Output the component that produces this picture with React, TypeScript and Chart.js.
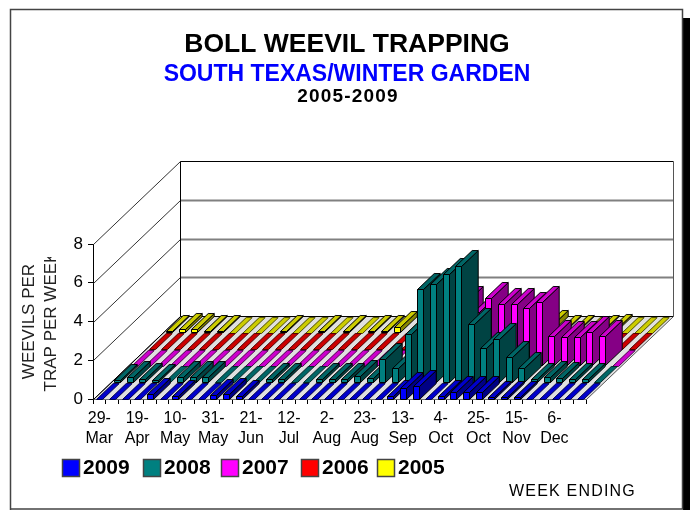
import React, { useEffect, useRef } from "react";
import { Chart, BarController, registerables } from "chart.js";

Chart.register(...registerables);

const weeks = ["29-Mar","5-Apr","12-Apr","19-Apr","26-Apr","3-May","10-May","17-May","24-May","31-May","7-Jun","14-Jun","21-Jun","28-Jun","5-Jul","12-Jul","19-Jul","26-Jul","2-Aug","9-Aug","16-Aug","23-Aug","30-Aug","6-Sep","13-Sep","20-Sep","27-Sep","4-Oct","11-Oct","18-Oct","25-Oct","1-Nov","8-Nov","15-Nov","22-Nov","29-Nov","6-Dec","13-Dec","20-Dec"];

const y2009 = [0,0,0,0,0.25,0,0.13,0,0,0.22,0.25,0.13,0,0,0,0,0,0,0,0,0,0,0,0.13,0.55,0.65,0,0.13,0.35,0.35,0.35,0.12,0.12,0.12,0,0,0,0,0];
const y2008 = [0.1,0.3,0.15,0.1,0,0.3,0.27,0.27,0,0,0,0,0.15,0.15,0,0,0.15,0.15,0.15,0.35,0.25,1.2,0.75,2.5,4.8,5.1,5.6,6.0,3.0,1.8,2.25,1.3,0.75,0.2,0.3,0.25,0.15,0.15,null];
const y2007 = [0,0,0,0,0,0,0,0,0,0,0,0,0,0,0,0,0,0,0,0,0,0,0,0,0,0,3.3,2.8,3.5,3.2,3.2,3.0,3.3,1.55,1.5,1.5,1.75,1.55,null];
const y2006 = [0,0,0,0,0,0,0,0,0,0,0,0,0,0,0,0,0,0,0,0,0,0,0,0,0,0,0,0,0,0,0,0,0,0,0,0,0,0,null];
const y2005 = [0.1,0.2,0.2,0.08,0.08,0,0,0,0,0.08,0,0,0.08,0,0.08,0,0.08,0.08,0.28,0,0,0,0,0,0,0,0,0,0,0,0.35,0.08,0.08,0,0.08,0.15,0,0,null];

const seriesNames = ["2009","2008","2007","2006","2005"];
const seriesColors = ["#0000ff","#008080","#ff00ff","#ff0000","#ffff00"];
const legendX = [62,143,221,301,377];

const WALL_DX = 87; // depth offset of back wall
const WALL_DY = 83;
const ROWS = 5;
const FONT = "'Liberation Sans', Arial, sans-serif";

function shade(hex: string, f: number) {
  const n = parseInt(hex.slice(1), 16);
  const c = [(n >> 16) & 255, (n >> 8) & 255, n & 255].map((v) => Math.round(v * f));
  return `rgb(${c[0]},${c[1]},${c[2]})`;
}

function poly(ctx: CanvasRenderingContext2D, pts: number[][], fill: string | null, stroke: string | null) {
  ctx.beginPath();
  pts.forEach((p, i) => (i ? ctx.lineTo(p[0], p[1]) : ctx.moveTo(p[0], p[1])));
  ctx.closePath();
  if (fill) { ctx.fillStyle = fill; ctx.fill(); }
  if (stroke) { ctx.strokeStyle = stroke; ctx.lineWidth = 1; ctx.stroke(); }
}

class Bar3DController extends BarController {
  draw() {
    const ctx = (this as any).chart.ctx as CanvasRenderingContext2D;
    const meta = (this as any)._cachedMeta;
    const row = (this as any).index as number;
    const color = (this as any).getDataset().backgroundColor as string;
    const sx = WALL_DX / ROWS, sy = WALL_DY / ROWS;
    const ox = row * sx, oy = -row * sy;
    const dx = sx * 0.96, dy = sy * 0.96;
    const edge = shade(color, 0.3);
    ctx.save();
    ctx.lineJoin = "round";
    meta.data.forEach((el: any) => {
      if (el.skip) return;
      const p = el.getProps(["x", "y", "base", "width"], true);
      const l = Math.round(p.x - p.width / 2 + ox) + 0.5;
      const r = l + Math.round(p.width);
      const b = Math.round(p.base + oy) + 0.5;
      const t = Math.round(p.y + oy) + 0.5;
      if (b - t < 1) {
        // a zero value: only the lid of the bar lies on the floor
        poly(ctx, [[l, t], [r, t], [r + dx, t - dy], [l + dx, t - dy]], shade(color, 0.8), edge);
        return;
      }
      poly(ctx, [[r, b], [r + dx, b - dy], [r + dx, t - dy], [r, t]], shade(color, 0.52), "#000");
      poly(ctx, [[l, t], [r, t], [r + dx, t - dy], [l + dx, t - dy]], shade(color, 0.8), "#000");
      poly(ctx, [[l, b], [r, b], [r, t], [l, t]], color, "#000");
    });
    ctx.restore();
  }
}
(Bar3DController as any).id = "bar3d";
(Bar3DController as any).defaults = (BarController as any).defaults;
(Bar3DController as any).overrides = (BarController as any).overrides;
Chart.register(Bar3DController as any);

const framePlugin = {
  id: "frame",
  afterLayout(chart: any) {
    // titles centre on the whole picture, not on the plot's reduced width
    chart.boxes.forEach((b: any) => {
      if (b.options && b.options.text !== undefined) {
        b.left = 0;
        b.right = 694;
      }
    });
  },
  beforeDraw(chart: any) {
    const c = chart.ctx as CanvasRenderingContext2D;
    c.save();
    c.fillStyle = "#fff";
    c.fillRect(0, 0, 694, 510);
    c.fillStyle = "#000";
    c.fillRect(683, 18, 7, 492);
    c.strokeStyle = "#444";
    c.lineWidth = 1.5;
    c.beginPath();
    c.moveTo(10.5, 510);
    c.lineTo(10.5, 9.5);
    c.lineTo(682.5, 9.5);
    c.lineTo(682.5, 509);
    c.lineTo(10.5, 509);
    c.stroke();
    c.restore();
  },
};

const wallsPlugin = {
  id: "walls",
  beforeDatasetsDraw(chart: any) {
    const c = chart.ctx as CanvasRenderingContext2D;
    const { left, right, bottom } = chart.chartArea;
    const ys = chart.scales.y;
    const L = left + 0.5, R = right + 0.5, B = bottom + 0.5;
    const bl = L + WALL_DX, br = R + WALL_DX, by = B - WALL_DY;
    c.save();
    poly(c, [[L, B], [R, B], [br, by], [bl, by]], "#e0e0e0", null);
    c.lineWidth = 1;
    ys.ticks.forEach((t: any) => {
      const y = Math.round(ys.getPixelForValue(t.value)) + 0.5;
      const top = t.value === 8, zero = t.value === 0;
      c.strokeStyle = "#333";
      c.lineWidth = 1;
      c.beginPath();
      c.moveTo(L, y);
      c.lineTo(L + WALL_DX, y - WALL_DY);
      c.stroke();
      c.strokeStyle = top || zero ? "#000" : "#808080";
      c.lineWidth = top || zero ? 1 : 2;
      c.beginPath();
      c.moveTo(bl, y - WALL_DY);
      c.lineTo(br, y - WALL_DY);
      c.stroke();
    });
    const topY = Math.round(ys.getPixelForValue(8)) + 0.5 - WALL_DY;
    c.strokeStyle = "#000";
    c.lineWidth = 1;
    c.beginPath();
    c.moveTo(bl, topY); c.lineTo(bl, by);
    c.moveTo(L, B); c.lineTo(bl, by);
    c.stroke();
    c.strokeStyle = "#555";
    c.beginPath();
    c.moveTo(br, topY); c.lineTo(br, by); c.lineTo(R, B);
    c.stroke();
    c.restore();
  },
};

const textPlugin = {
  id: "texts",
  afterDraw(chart: any) {
    const c = chart.ctx as CanvasRenderingContext2D & { letterSpacing: string };
    c.save();
    // the y title is cut off at its end in the source picture
    c.fillStyle = "#fff";
    c.fillRect(40, 236, 24, 21);
    c.textBaseline = "middle";
    c.textAlign = "center";
    c.fillStyle = "#000";
    c.font = `bold 19px ${FONT}`;
    c.letterSpacing = "1.2px";
    c.fillText("2005-2009", 348, 97);
    c.textAlign = "left";
    c.font = `16px ${FONT}`;
    c.letterSpacing = "1.2px";
    c.fillText("WEEK ENDING", 509, 492);
    c.letterSpacing = "0px";
    chart.data.datasets.forEach((d: any, i: number) => {
      const x = legendX[i];
      c.fillStyle = d.backgroundColor;
      c.fillRect(x, 459, 18, 18);
      c.strokeStyle = "#444";
      c.lineWidth = 1.5;
      c.strokeRect(x + 0.5, 459.5, 17, 17);
      c.fillStyle = "#000";
      c.font = `bold 21px ${FONT}`;
      c.fillText(d.label, x + 21, 468);
    });
    c.restore();
  },
};

export default function App() {
  const ref = useRef<HTMLCanvasElement>(null);
  useEffect(() => {
    const values = [y2009, y2008, y2007, y2006, y2005];
    const chart = new Chart(ref.current as HTMLCanvasElement, {
      type: "bar3d" as any,
      data: {
        labels: weeks,
        datasets: values.map((v, i) => ({
          label: seriesNames[i],
          data: v,
          backgroundColor: seriesColors[i],
          grouped: false,
          clip: false,
          categoryPercentage: 1,
          barPercentage: 0.45,
        })) as any,
      },
      options: {
        responsive: false,
        animation: false,
        events: [],
        layout: { padding: { left: 0, right: 108, top: 0, bottom: 0 } },
        scales: {
          x: {
            type: "category",
            offset: true,
            afterFit: (s: any) => { s.height = 111; },
            grid: { display: true, offset: true, drawOnChartArea: false, drawTicks: true, tickLength: 5, color: "#000" },
            border: { display: true, color: "#000" },
            ticks: {
              autoSkip: false,
              maxRotation: 0,
              minRotation: 0,
              padding: 5,
              color: "#000",
              font: { family: FONT, size: 16, lineHeight: 1.25 },
              callback: (_: any, i: number) => {
                if (i % 3 !== 0) return "";
                const [d, m] = weeks[i].split("-");
                return [`${d}-`, m];
              },
            },
          },
          y: {
            type: "linear",
            min: 0,
            max: 8,
            afterFit: (s: any) => { s.width = 93; },
            grid: { display: true, drawOnChartArea: false, drawTicks: true, tickLength: 5, color: "#000" },
            border: { display: true, color: "#000" },
            ticks: { stepSize: 2, padding: 5, color: "#000", font: { family: FONT, size: 17 } },
            title: {
              display: true,
              text: ["WEEVILS PER", "TRAP PER WEEK"],
              color: "#222",
              font: { family: FONT, size: 17, lineHeight: 1.3 },
              padding: { top: 18, bottom: 0 },
            },
          },
        },
        plugins: {
          legend: { display: false },
          tooltip: { enabled: false },
          title: {
            display: true,
            text: "BOLL WEEVIL TRAPPING",
            color: "#000",
            font: { family: FONT, size: 26.5, weight: "bold", lineHeight: 1.2 },
            padding: { top: 29, bottom: 0 },
          },
          subtitle: {
            display: true,
            text: "SOUTH TEXAS/WINTER GARDEN",
            color: "#0000ff",
            font: { family: FONT, size: 23, weight: "bold", lineHeight: 1.2 },
            padding: { top: 0.4, bottom: 155.2 },
          },
        },
      },
      plugins: [framePlugin, wallsPlugin, textPlugin],
    } as any);
    return () => chart.destroy();
  }, []);
  return (
    <div style={{ position: "absolute", left: 0, top: 0, width: 694, height: 510 }}>
      <canvas ref={ref} width={694} height={510} style={{ display: "block" }} />
    </div>
  );
}
